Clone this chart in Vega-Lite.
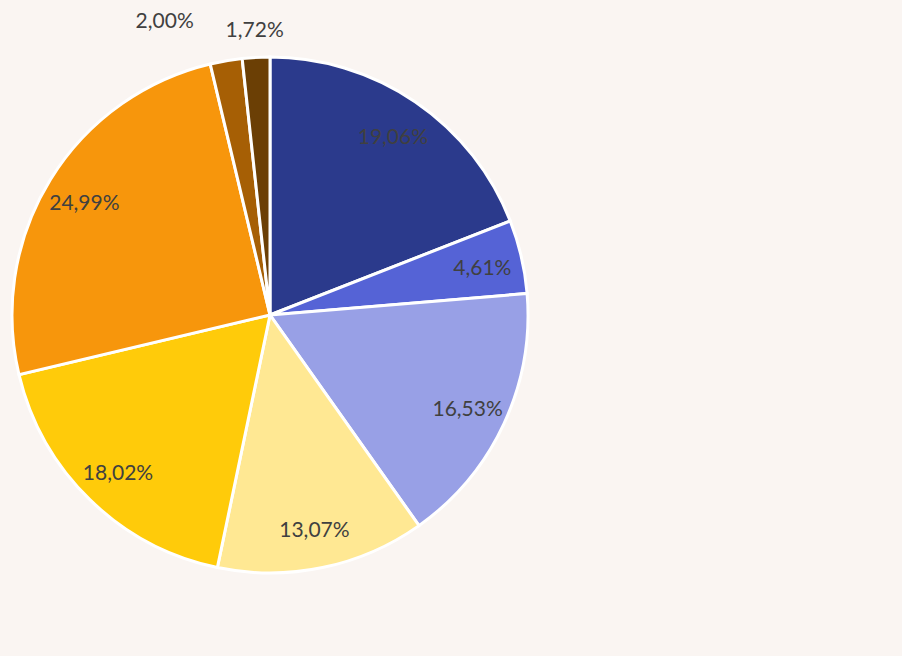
{
  "$schema": "https://vega.github.io/schema/vega-lite/v6.json",
  "width": 540,
  "height": 630,
  "autosize": {"type": "none"},
  "padding": {"left": 0, "top": 0, "right": 362, "bottom": 26},
  "background": "#faf5f2",
  "view": {"stroke": null},
  "data": {
    "values": [
      {"order": 1, "pct": 19.06, "label": "19,06%"},
      {"order": 2, "pct": 4.61, "label": "4,61%"},
      {"order": 3, "pct": 16.53, "label": "16,53%"},
      {"order": 4, "pct": 13.07, "label": "13,07%"},
      {"order": 5, "pct": 18.02, "label": "18,02%"},
      {"order": 6, "pct": 24.99, "label": "24,99%"},
      {"order": 7, "pct": 2.00, "label": "2,00%"},
      {"order": 8, "pct": 1.72, "label": "1,72%"}
    ]
  },
  "encoding": {
    "theta": {"field": "pct", "type": "quantitative", "stack": true},
    "order": {"field": "order", "type": "quantitative"}
  },
  "layer": [
    {
      "mark": {"type": "arc", "outerRadius": 258, "stroke": "#ffffff", "strokeWidth": 3},
      "encoding": {
        "color": {
          "field": "label",
          "type": "nominal",
          "scale": {
            "domain": ["19,06%", "4,61%", "16,53%", "13,07%", "18,02%", "24,99%", "2,00%", "1,72%"],
            "range": ["#2b3a8c", "#5563d6", "#98a0e6", "#ffe893", "#ffcb0a", "#f7960c", "#a65f05", "#6b3f05"]
          },
          "legend": null
        }
      }
    },
    {
      "mark": {"type": "text", "radius": 218, "dy": 3, "font": "Lato", "fontSize": 21, "color": "#404040"},
      "encoding": {
        "text": {"condition": {"test": "datum.pct < 3", "value": ""}, "field": "label", "type": "nominal"}
      }
    },
    {
      "mark": {"type": "text", "radius": 284, "font": "Lato", "fontSize": 21, "color": "#404040"},
      "encoding": {
        "text": {"condition": {"test": "datum.order != 8", "value": ""}, "field": "label", "type": "nominal"}
      }
    },
    {
      "mark": {"type": "text", "radius": 296, "dx": -55, "dy": -1, "font": "Lato", "fontSize": 21, "color": "#404040"},
      "encoding": {
        "text": {"condition": {"test": "datum.order != 7", "value": ""}, "field": "label", "type": "nominal"}
      }
    }
  ]
}
